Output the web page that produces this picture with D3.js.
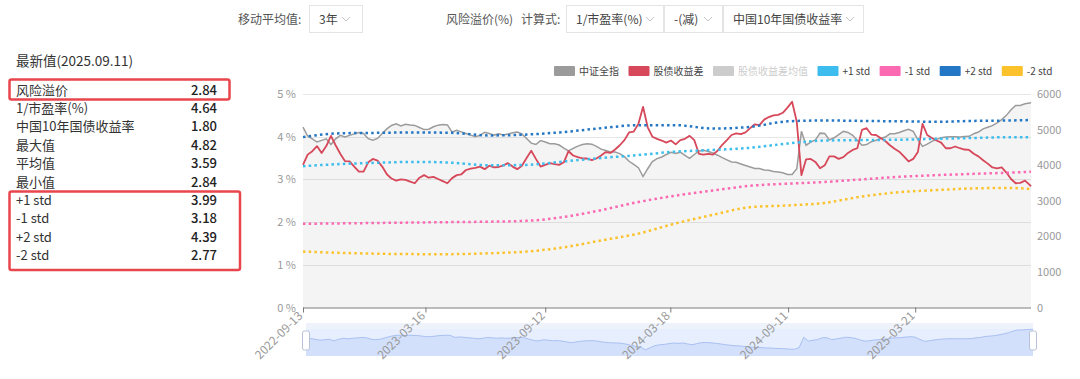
<!DOCTYPE html>
<html><head><meta charset="utf-8">
<script src="https://cdn.jsdelivr.net/npm/d3@7"></script>
<style>
body{margin:0;background:#fff;}
svg{display:block;font-family:"Noto Sans CJK SC","Noto Sans",sans-serif;}
</style></head><body>
<svg id="c" width="1080" height="379"></svg>
<script>
// ---------- data ----------
const startDate = "2022-09-13";
const endDate = "2025-09-11";
const xTickLabels = ["2022-09-13","2023-03-16","2023-09-12","2024-03-18","2024-09-11","2025-03-21"];
const leftTicks = [0,1,2,3,4,5];
const rightTicks = [0,1000,2000,3000,4000,5000,6000];
const legendNames = ["中证全指","股债收益差","股债收益差均值","+1 std","-1 std","+2 std","-2 std"];
const summaryLabels = ["风险溢价","1/市盈率(%)","中国10年国债收益率","最大值","平均值","最小值","+1 std","-1 std","+2 std","-2 std"];
const summaryValues = ["2.84","4.64","1.80","4.82","3.59","2.84","3.99","3.18","4.39","2.77"];
// weekly samples (every 7 days from start, last = end date)
const spreadWeekly = [
3.34,3.58,3.66,3.78,3.62,3.78,4.02,3.80,3.60,3.43,
3.42,3.30,3.18,3.18,3.40,3.48,3.44,3.30,3.12,3.02,
2.97,3.00,2.99,2.95,2.91,3.04,3.10,3.04,3.06,3.01,
2.96,2.91,3.03,3.10,3.12,3.22,3.25,3.27,3.30,3.24,
3.32,3.28,3.29,3.33,3.38,3.30,3.24,3.32,3.50,3.67,
3.48,3.30,3.34,3.38,3.36,3.34,3.40,3.66,3.56,3.52,
3.49,3.49,3.45,3.49,3.56,3.64,3.62,3.70,3.80,3.92,
4.10,4.12,4.30,4.70,4.22,4.00,3.95,3.91,3.86,3.91,
3.82,3.92,3.95,4.02,3.92,3.60,3.58,3.60,3.58,3.67,
3.81,3.92,4.04,4.08,4.06,4.10,4.20,4.29,4.27,4.40,
4.46,4.50,4.51,4.56,4.68,4.82,4.35,3.10,3.47,3.48,
3.41,3.26,3.33,3.54,3.54,3.48,3.52,3.62,3.69,3.73,
4.16,4.20,4.05,4.04,3.97,3.90,3.80,3.72,3.65,3.54,
3.42,3.48,3.64,4.30,4.04,3.97,3.91,3.86,3.73,3.73,
3.77,3.73,3.70,3.69,3.60,3.54,3.45,3.37,3.28,3.26,
3.28,3.16,3.01,2.91,2.92,2.97,2.87,
2.84];
const indexWeekly = [
5070,4820,4740,4650,4697,4740,4580,4740,4837,4790,
4837,4880,4920,4890,4744,4700,4750,4890,5020,5117,
5160,5100,5150,5130,5117,5060,5000,5010,5080,5125,
5145,5130,4930,4977,4935,4890,4845,4800,4837,4925,
4890,4845,4880,4845,4875,4910,4930,4880,4750,4620,
4580,4690,4650,4604,4604,4565,4480,4400,4470,4535,
4580,4604,4590,4530,4450,4410,4369,4369,4325,4240,
4110,4020,3930,3680,3900,4100,4185,4229,4300,4360,
4330,4365,4276,4190,4300,4400,4416,4385,4340,4280,
4210,4150,4089,4080,4035,3990,3947,3905,3903,3865,
3856,3820,3808,3785,3740,3740,3900,4950,4560,4650,
4710,4900,4890,4710,4770,4860,4950,4920,4840,4700,
4560,4580,4660,4700,4750,4790,4880,4884,4920,4965,
5010,4950,4720,4530,4590,4670,4725,4770,4790,4800,
4800,4792,4805,4810,4884,4930,5020,5065,5110,5190,
5280,5400,5560,5680,5680,5725,5745,
5760];
// band samples (every 56 days from start, last = end date)
const stdPlus2 = [3.99,4.08,4.09,4.10,4.09,4.03,4.05,4.11,4.20,4.27,4.27,4.19,4.23,4.36,4.38,4.37,4.36,4.35,4.37,4.38,4.39];
const stdPlus1 = [3.31,3.36,3.39,3.41,3.39,3.33,3.34,3.42,3.50,3.57,3.65,3.69,3.74,3.84,3.91,3.92,3.93,3.95,3.97,3.99,3.99];
const stdMinus1 = [1.96,1.97,1.98,1.99,2.00,2.01,2.03,2.12,2.28,2.47,2.62,2.74,2.85,2.90,2.94,3.00,3.06,3.10,3.13,3.16,3.18];
const stdMinus2 = [1.31,1.28,1.26,1.25,1.25,1.27,1.31,1.41,1.57,1.73,1.97,2.17,2.35,2.39,2.45,2.60,2.70,2.75,2.79,2.80,2.77];

// ---------- setup ----------
const parse = d3.timeParse("%Y-%m-%d");
const t0 = parse(startDate), t1 = parse(endDate);
const datesFor = (arr, step) => arr.map((v,i) => i === arr.length-1 ? t1 : d3.timeDay.offset(t0, step*i));
const weeklyDates = datesFor(spreadWeekly, 7);
const bandDates = datesFor(stdPlus1, 56);

const colors = {index:"#9b9b9b", spread:"#d6485a", mean:"#cccccc", p1:"#3cbdee", m1:"#fb69b2", p2:"#2377c4", m2:"#fbc22c"};
const legendColors = [colors.index, colors.spread, colors.mean, colors.p1, colors.m1, colors.p2, colors.m2];

const svg = d3.select("#c");
const L = 303, R = 1031, T = 94, B = 307.5;
const x = d3.scaleTime().domain([t0, t1]).range([L, R]);
const yL = d3.scaleLinear().domain([0,5]).range([B, T]);
const yR = d3.scaleLinear().domain([0,6000]).range([B, T]);

// ---------- data zoom slider (drawn first, under axis labels) ----------
const sT = 323, sB = 356, sL = 306, sR = 1033;
const sx = d3.scaleTime().domain([t0,t1]).range([sL,sR]);
const ext = d3.extent(indexWeekly), pad = (ext[1]-ext[0])*0.3;
const sy = d3.scaleLinear().domain([ext[0]-pad, ext[1]+pad]).range([sB, sT]);
const sl = svg.append("g");
sl.append("rect").attr("x",sL).attr("y",sT).attr("width",sR-sL).attr("height",sB-sT).attr("fill","#e7effe");
sl.append("rect").attr("x",sL).attr("y",sT).attr("width",sR-sL).attr("height",6).attr("fill","#eef2fb");
sl.append("path").datum(indexWeekly).attr("d", d3.area().x((d,i)=>sx(weeklyDates[i])).y0(sB).y1(d=>sy(d)))
  .attr("fill","#d3e0fb");
sl.append("path").datum(indexWeekly).attr("d", d3.line().x((d,i)=>sx(weeklyDates[i])).y(d=>sy(d)))
  .attr("fill","none").attr("stroke","#a9c0f2").attr("stroke-width",1);
[sL, sR].forEach(hx => {
  sl.append("rect").attr("x",hx-3.5).attr("y",331).attr("width",7).attr("height",19).attr("rx",2)
    .attr("fill","#fff").attr("stroke","#b7c2d8").attr("stroke-width",1);
});

// ---------- top controls ----------
const ctrl = svg.append("g").attr("font-size", 12);
function chevron(cx){
  ctrl.append("path").attr("d", `M${cx-4},17 L${cx},21 L${cx+4},17`).attr("fill","none").attr("stroke","#c4c4c4").attr("stroke-width",1);
}
function box(x0, x1, label, tx, cx){
  ctrl.append("rect").attr("x",x0+0.5).attr("y",5.5).attr("width",x1-x0).attr("height",27).attr("fill","#fff").attr("stroke","#e4e4e4");
  ctrl.append("text").attr("x",tx).attr("y",23.5).attr("fill","#444").text(label);
  chevron(cx);
}
ctrl.append("text").attr("x",238).attr("y",23.5).attr("fill","#555").text("移动平均值:");
box(309, 362, "3年", 319, 346);
ctrl.append("text").attr("x",446).attr("y",23.5).attr("fill","#555").text("风险溢价(%)");
ctrl.append("text").attr("x",521).attr("y",23.5).attr("fill","#555").text("计算式:");
box(566, 663, "1/市盈率(%)", 576, 650);
box(664, 722, "-(减)", 674, 708);
box(723, 863, "中国10年国债收益率", 733, 850);

// ---------- left summary panel ----------
const panel = svg.append("g").attr("font-size", 13).attr("fill","#333");
panel.append("text").attr("x",16).attr("y",66).attr("font-size",13.5).text("最新值(2025.09.11)");
summaryLabels.forEach((lab,i) => {
  const yy = 94.5 + 18.4*i;
  panel.append("text").attr("x",16).attr("y",yy).text(lab);
  panel.append("text").attr("x",217).attr("y",yy).attr("text-anchor","end").attr("font-weight",500).attr("fill","#222").text(summaryValues[i]);
});
svg.append("rect").attr("x",9.5).attr("y",79.5).attr("width",220).attr("height",20).attr("rx",2)
  .attr("fill","none").attr("stroke","#e8464c").attr("stroke-width",2.5);
svg.append("rect").attr("x",9.5).attr("y",191.5).attr("width",230.5).attr("height",78.5).attr("rx",2)
  .attr("fill","none").attr("stroke","#e8464c").attr("stroke-width",2.5);

// ---------- legend ----------
const lg = svg.append("g").attr("font-size", 10);
let lx = 554;
legendNames.forEach((name,i) => {
  lg.append("rect").attr("x",lx).attr("y",66).attr("width",21).attr("height",10).attr("rx",1).attr("fill",legendColors[i]);
  const t = lg.append("text").attr("x",lx+25).attr("y",74.5).attr("fill", i===2 ? "#cccccc" : "#444").text(name);
  lx += 25 + t.node().getComputedTextLength() + 9.5;
});

// ---------- grid + axes ----------
const grid = svg.append("g");
leftTicks.filter(d=>d>0).forEach(d => {
  grid.append("line").attr("x1",L).attr("x2",R).attr("y1",Math.round(yL(d))+0.5).attr("y2",Math.round(yL(d))+0.5)
    .attr("stroke","#e6e6e6").attr("stroke-width",1);
});

// area of index
const areaGen = d3.area().x((d,i)=>x(weeklyDates[i])).y0(B).y1(d=>yR(d));
svg.append("path").datum(indexWeekly).attr("d", areaGen).attr("fill","rgba(150,150,150,0.1)");

// index line
const lineIdx = d3.line().x((d,i)=>x(weeklyDates[i])).y(d=>yR(d));
svg.append("path").datum(indexWeekly).attr("d", lineIdx).attr("fill","none").attr("stroke",colors.index).attr("stroke-width",1.5);
// spread line
const lineSp = d3.line().x((d,i)=>x(weeklyDates[i])).y(d=>yL(d));
svg.append("path").datum(spreadWeekly).attr("d", lineSp).attr("fill","none").attr("stroke",colors.spread).attr("stroke-width",1.8).attr("stroke-linejoin","round");

// std bands
const lineBand = d3.line().x((d,i)=>x(bandDates[i])).y(d=>yL(d)).curve(d3.curveMonotoneX);
[[stdPlus1,colors.p1],[stdMinus1,colors.m1],[stdPlus2,colors.p2],[stdMinus2,colors.m2]].forEach(([arr,c]) => {
  svg.append("path").datum(arr).attr("d", lineBand).attr("fill","none").attr("stroke",c)
    .attr("stroke-width",2.5).attr("stroke-dasharray","2.5 3.2");
});

// left / right axis labels
const axTxt = svg.append("g").attr("font-size",11).attr("fill","#999");
leftTicks.forEach(d => {
  axTxt.append("text").attr("x",296).attr("y",yL(d)+4).attr("text-anchor","end").text(d + " %");
});
rightTicks.forEach(d => {
  axTxt.append("text").attr("x",1037).attr("y",yR(d)+4).text(d);
});

// x axis
const xAxis = d3.axisBottom(x).tickValues(xTickLabels.map(parse)).tickSize(5).tickFormat(d3.timeFormat("%Y-%m-%d"));
const gx = svg.append("g").attr("transform",`translate(0,${B})`).call(xAxis);
gx.select(".domain").attr("stroke","#7a7a7a").attr("d",`M${L},0.5H${R}`);
gx.selectAll(".tick line").attr("stroke","#7a7a7a");
gx.selectAll(".tick text").attr("fill","#999").attr("font-size",12).attr("font-family",'"Noto Sans CJK SC","Noto Sans",sans-serif')
  .attr("text-anchor","end").attr("dy",null).attr("y",0)
  .attr("transform","translate(0,9) rotate(-45)");
</script>
</body></html>
